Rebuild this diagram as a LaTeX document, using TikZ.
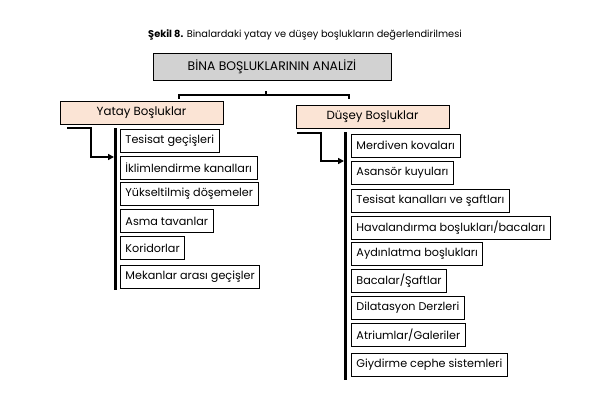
\documentclass[tikz,border=0pt]{standalone}
\usepackage{fontspec}
\setmainfont{Poppins}
\usetikzlibrary{arrows.meta,positioning,calc}
\definecolor{bgray}{RGB}{210,210,210}
\definecolor{bpeach}{RGB}{251,228,213}

\begin{document}
\begin{tikzpicture}[
  x=1pt, y=-1pt,
  mainbox/.style={draw=black, fill=bgray, line width=0.9pt,
                  minimum width=238pt, minimum height=27pt,
                  font=\fontsize{12.4}{14}\selectfont},
  groupbox/.style={draw=black, fill=bpeach, line width=0.9pt,
                   minimum width=153pt, minimum height=23pt,
                   font=\fontsize{11.8}{13}\selectfont},
  item/.style={draw=black, fill=white, line width=0.9pt, anchor=west,
               inner xsep=5pt, minimum height=23pt,
               font=\fontsize{11.2}{13}\selectfont},
  bar/.style={line width=3pt},
  arr/.style={-{Triangle[length=6pt,width=6pt]}, line width=1.5pt},
  brace/.style={line width=1.2pt}
]
  \useasboundingbox (0,0) rectangle (600,402);

  \node[font=\fontsize{9.8}{11}\selectfont] (title) at (305,35)
    {\textbf{Şekil 8.} Binalardaki yatay ve düşey boşlukların değerlendirilmesi};

  \node[mainbox]  (main)  at (272,66.5) {BİNA BOŞLUKLARININ ANALİZİ};
  \node[groupbox, minimum width=163pt] (yatay) at (141.5,113) {Yatay Boşluklar};
  \node[groupbox] (dusey) at (372.5,117)  {Düşey Boşluklar};

  % bracket under the main box
  \coordinate (bl) at (179,95);
  \coordinate (br) at (349,95);
  \coordinate (bm) at (266,95);
  \draw[brace] ($(bl)+(0,4)$) -- (bl) -- (br) -- ($(br)+(0,4)$);
  \draw[brace] (bm) -- ($(bm)+(0,-4)$);

  % horizontal voids
  \node[item] (y1) at (120,141) {Tesisat geçişleri};
  \node[item] (y2) at (120,168) {İklimlendirme kanalları};
  \node[item] (y3) at (120,194) {Yükseltilmiş döşemeler};
  \node[item] (y4) at (120,221) {Asma tavanlar};
  \node[item] (y5) at (120,248) {Koridorlar};
  \node[item] (y6) at (120,277) {Mekanlar arası geçişler};

  \coordinate (ytop) at (115,128);
  \coordinate (ybot) at (115,290);
  \draw[bar] (ytop) -- (ybot);
  \coordinate (ystart) at (67,128);
  \coordinate (yend)   at (114,157);
  \draw[arr] (ystart) -- ++(24,0) |- (yend);

  % vertical voids
  \node[item] (d1) at (351,145.5) {Merdiven kovaları};
  \node[item] (d2) at (351,172.5) {Asansör kuyuları};
  \node[item] (d3) at (351,200.5) {Tesisat kanalları ve şaftları};
  \node[item] (d4) at (351,227.5) {Havalandırma boşlukları/bacaları};
  \node[item] (d5) at (351,254)   {Aydınlatma boşlukları};
  \node[item] (d6) at (351,280.5) {Bacalar/Şaftlar};
  \node[item] (d7) at (351,308)   {Dilatasyon Derzleri};
  \node[item] (d8) at (351,335)   {Atriumlar/Galeriler};
  \node[item] (d9) at (351,364.5) {Giydirme cephe sistemleri};

  \coordinate (dtop) at (345,132);
  \coordinate (dbot) at (345,380);
  \draw[bar] (dtop) -- (dbot);
  \coordinate (dstart) at (297,133);
  \coordinate (dend)   at (344,161);
  \draw[arr] (dstart) -- ++(24,0) |- (dend);
\end{tikzpicture}
\end{document}
